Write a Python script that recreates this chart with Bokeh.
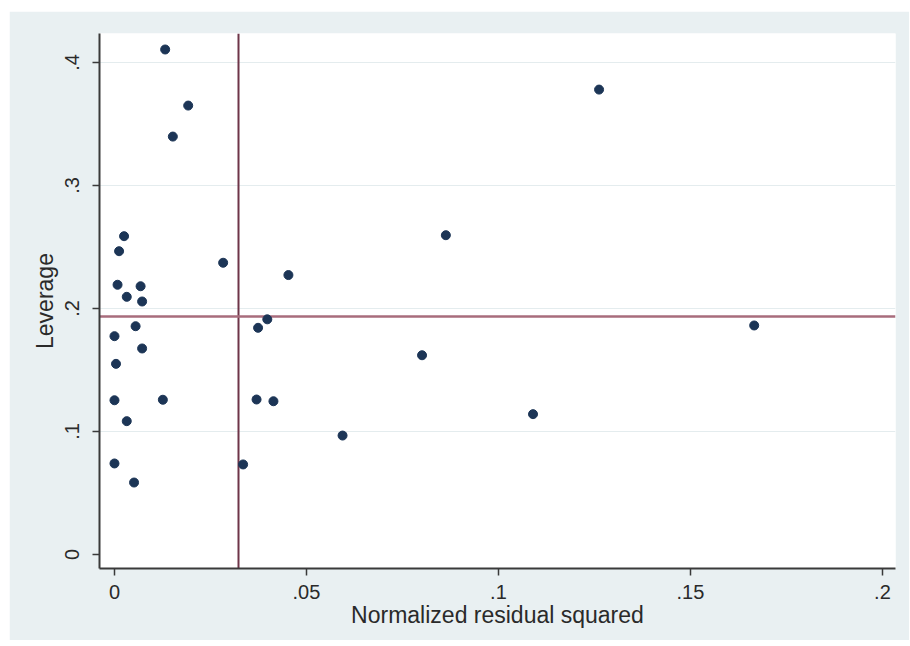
from bokeh.plotting import figure
from bokeh.models import Range1d, FixedTicker, Span, CustomJSTickFormatter
from bokeh.embed import file_html
from bokeh.resources import INLINE

# Normalized residual squared (x) and leverage (y) for each observation
resid_sq = [0.0132, 0.0192, 0.0152, 0.1262, 0.0025, 0.0012, 0.0283, 0.0863,
            0.0453, 0.0008, 0.0068, 0.0032, 0.0072, 0.0055, 0.0000, 0.0072,
            0.0004, 0.0398, 0.0374, 0.1666, 0.0801, 0.0000, 0.0126, 0.0370,
            0.0414, 0.0032, 0.1090, 0.0594, 0.0000, 0.0335, 0.0051]
leverage = [0.4106, 0.3650, 0.3398, 0.3780, 0.2588, 0.2466, 0.2372, 0.2596,
            0.2272, 0.2193, 0.2181, 0.2095, 0.2057, 0.1856, 0.1775, 0.1675,
            0.1550, 0.1912, 0.1843, 0.1862, 0.1620, 0.1254, 0.1258, 0.1260,
            0.1246, 0.1084, 0.1141, 0.0967, 0.0740, 0.0732, 0.0585]

# Reference lines (means)
resid_mean = 0.0323
lev_mean = 0.1935

x_ticks = [0, 0.05, 0.1, 0.15, 0.2]
y_ticks = [0, 0.1, 0.2, 0.3, 0.4]
grid_ticks = [0.1, 0.2, 0.3, 0.4]

FONT = "Liberation Sans"

p = figure(width=900, height=629, output_backend="svg", toolbar_location=None,
           x_range=Range1d(-0.0039, 0.2034), y_range=Range1d(-0.0114, 0.4236),
           min_border_left=90, min_border_right=14, min_border_top=22,
           min_border_bottom=72)
p.margin = (11, 0, 0, 9)

p.border_fill_color = "#e9f0f2"
p.background_fill_color = "white"
p.outline_line_color = None

fmt = CustomJSTickFormatter(code="""
if (Math.abs(tick) < 1e-9) { return "0"; }
var s = tick.toFixed(2).replace(/0+$/, '').replace(/\\.$/, '');
return s.replace(/^0/, '');
""")

p.xaxis.ticker = FixedTicker(ticks=x_ticks)
p.yaxis.ticker = FixedTicker(ticks=y_ticks)
p.xaxis.formatter = fmt
p.yaxis.formatter = fmt
p.xaxis.axis_label = "Normalized residual squared"
p.yaxis.axis_label = "Leverage"
p.yaxis.major_label_orientation = "vertical"

for ax in (p.xaxis, p.yaxis):
    ax.axis_line_color = "#3a3a3a"
    ax.axis_line_width = 2
    ax.major_tick_line_color = "#3a3a3a"
    ax.major_tick_line_width = 1.5
    ax.major_tick_out = 7
    ax.major_tick_in = 0
    ax.minor_tick_line_color = None
    ax.major_label_text_font = FONT
    ax.major_label_text_font_size = "20px"
    ax.major_label_text_color = "#2a2a2a"
    ax.axis_label_text_font = FONT
    ax.axis_label_text_font_size = "23px"
    ax.axis_label_text_font_style = "normal"
    ax.axis_label_text_color = "#2a2a2a"

p.xaxis.major_label_standoff = 9
p.xaxis.axis_label_standoff = 0
p.yaxis.major_label_standoff = 13
p.yaxis.axis_label_standoff = 5

p.xgrid.visible = False
p.ygrid.ticker = FixedTicker(ticks=grid_ticks)
p.ygrid.grid_line_color = "#e4ecee"
p.ygrid.grid_line_width = 1

vline = Span(location=resid_mean, dimension="height", line_color="#6e3548",
             line_width=2, level="underlay")
hline = Span(location=lev_mean, dimension="width", line_color="#a86c7c",
             line_width=2.5, level="underlay")
p.add_layout(vline)
p.add_layout(hline)

p.scatter(resid_sq, leverage, size=9, fill_color="#1c3556", line_color="#1c3556")

open("out.html", "w").write(file_html(p, INLINE))
